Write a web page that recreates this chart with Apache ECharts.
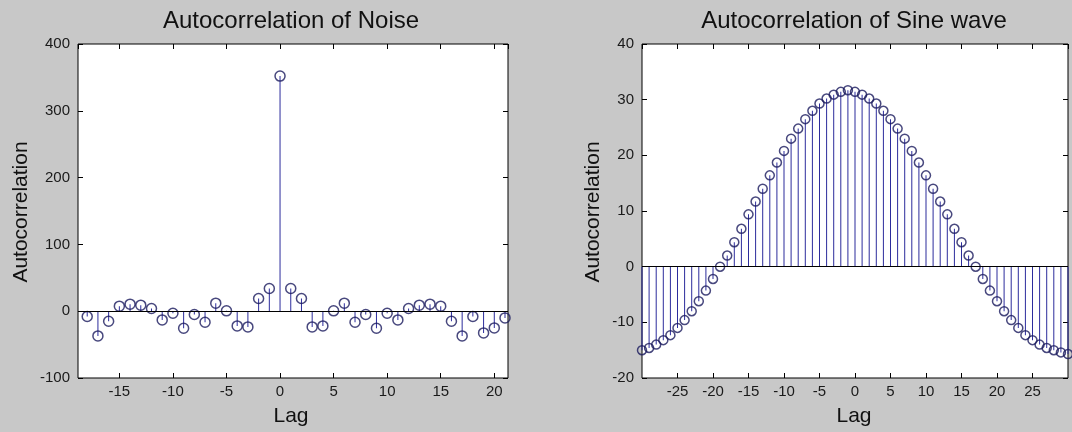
<!DOCTYPE html>
<html>
<head>
<meta charset="utf-8">
<script src="https://cdn.jsdelivr.net/npm/echarts@6/dist/echarts.min.js"></script>
<style>
  html, body { margin: 0; padding: 0; background: #c8c8c8; }
  #main { width: 1072px; height: 432px; }
</style>
</head>
<body>
<div id="main"></div>
<script>
// left panel: noise
var noiseLags = [-18, -17, -16, -15, -14, -13, -12, -11, -10, -9, -8, -7, -6, -5, -4, -3, -2, -1, 0,
  1, 2, 3, 4, 5, 6, 7, 8, 9, 10, 11, 12, 13, 14, 15, 16, 17, 18, 19, 20, 21];
var noiseAcf = [-8, -37, -15, 7.5, 10.5, 9, 4, -13, -3, -25.5, -5, -16.5, 12, 0.5, -22, -23.5, 19, 34, 352,
  34, 19, -23.5, -22, 0.5, 12, -16.5, -5, -25.5, -3, -13, 4, 9, 10.5, 7.5, -15, -37, -8, -32.5, -25, -10];
var noiseXRange = [-18.86, 21.28];
var noiseYTicks = [-100, 400, 100];

// right panel: sine wave
var sineLags = [-30, -29, -28, -27, -26, -25, -24, -23, -22, -21, -20, -19, -18, -17, -16, -15, -14, -13, -12, -11,
  -10, -9, -8, -7, -6, -5, -4, -3, -2, -1, 0, 1, 2, 3, 4, 5, 6, 7, 8, 9, 10, 11, 12, 13, 14, 15, 16, 17, 18, 19,
  20, 21, 22, 23, 24, 25, 26, 27, 28, 29, 30];
var sineAcf = [-15.0, -14.6, -14.0, -13.2, -12.3, -11.0, -9.6, -8.0, -6.2, -4.3, -2.2, 0.0, 2.0, 4.4, 6.8, 9.4,
  11.7, 14.0, 16.4, 18.7, 20.8, 23.0, 24.8, 26.5, 28.0, 29.3, 30.2, 30.9, 31.4, 31.7, 31.4, 30.9, 30.2, 29.3,
  28.0, 26.5, 24.8, 23.0, 20.8, 18.7, 16.4, 14.0, 11.7, 9.4, 6.8, 4.4, 2.0, 0.0, -2.2, -4.3, -6.2, -8.0, -9.6,
  -11.0, -12.3, -13.2, -14.0, -14.6, -15.0, -15.4, -15.7];
var sineXTicks = [-30, 30, 5];
var sineYTicks = [-20, 40, 10];

var FONT = 'Liberation Sans, Arial, sans-serif';
var stemColor = '#2c2c9c';
var ringColor = '#1a1a5e';

function pairs(xs, ys) {
  var out = [];
  for (var i = 0; i < xs.length; i++) out.push([xs[i], ys[i]]);
  return out;
}

function every5(v) {
  return Math.abs(v % 5) < 1e-9 ? String(v) : '';
}

// x axis, bottom one has labels, top one only inner ticks
function xAx(grid, top, extra) {
  var ax = {
    type: 'value', gridIndex: grid, position: top ? 'top' : 'bottom',
    axisLine: { show: false, onZero: false },
    axisTick: { show: true, inside: true, length: 5, lineStyle: { color: '#000' } },
    splitLine: { show: false },
    axisLabel: {
      show: !top, margin: 6, color: '#1a1a1a', fontSize: 15, fontFamily: FONT,
      showMinLabel: false, showMaxLabel: false, formatter: every5
    }
  };
  for (var k in extra) ax[k] = extra[k];
  return ax;
}

function yAx(grid, right, ticks) {
  return {
    type: 'value', gridIndex: grid, position: right ? 'right' : 'left',
    min: ticks[0], max: ticks[1], interval: ticks[2],
    axisLine: { show: false, onZero: false },
    axisTick: { show: true, inside: true, length: 5, lineStyle: { color: '#000' } },
    splitLine: { show: false },
    axisLabel: { show: !right, margin: 8, color: '#1a1a1a', fontSize: 15, fontFamily: FONT }
  };
}

function stems(xi, yi, data) {
  return {
    type: 'bar', xAxisIndex: xi, yAxisIndex: yi, data: data, barWidth: 1,
    itemStyle: { color: stemColor }, silent: true, animation: false, z: 2,
    markLine: {
      silent: true, symbol: ['none', 'none'], label: { show: false },
      lineStyle: { color: '#000', type: 'solid', width: 1 },
      data: [{ yAxis: 0 }]
    }
  };
}

function rings(xi, yi, data, size) {
  return {
    type: 'scatter', xAxisIndex: xi, yAxisIndex: yi, data: data, symbol: 'circle', symbolSize: size,
    itemStyle: { color: 'rgba(0,0,0,0)', borderColor: ringColor, borderWidth: 1.5 },
    silent: true, animation: false, z: 3
  };
}

function label(text, x, y, size, rot) {
  return {
    type: 'text', x: x, y: y, rotation: rot || 0, silent: true,
    style: { text: text, fill: '#111', font: size + 'px ' + FONT, textAlign: 'center', textVerticalAlign: 'middle' }
  };
}

var chart = echarts.init(document.getElementById('main'), null, { renderer: 'canvas' });

var noiseX = { min: noiseXRange[0], max: noiseXRange[1], splitNumber: 8 };
var sineX = { min: sineXTicks[0], max: sineXTicks[1], interval: sineXTicks[2] };

var option = {
  backgroundColor: '#c8c8c8',
  animation: false,
  grid: [
    { left: 78, top: 44, width: 430, height: 334, show: true, backgroundColor: '#fff', borderColor: '#000', borderWidth: 1 },
    { left: 642, top: 44, width: 426, height: 334, show: true, backgroundColor: '#fff', borderColor: '#000', borderWidth: 1 }
  ],
  xAxis: [xAx(0, false, noiseX), xAx(0, true, noiseX), xAx(1, false, sineX), xAx(1, true, sineX)],
  yAxis: [yAx(0, false, noiseYTicks), yAx(0, true, noiseYTicks), yAx(1, false, sineYTicks), yAx(1, true, sineYTicks)],
  series: [
    stems(0, 0, pairs(noiseLags, noiseAcf)),
    rings(0, 0, pairs(noiseLags, noiseAcf), 10),
    stems(2, 2, pairs(sineLags, sineAcf)),
    rings(2, 2, pairs(sineLags, sineAcf), 9)
  ],
  graphic: [
    label('Autocorrelation of Noise', 291, 21, 24),
    label('Lag', 291, 416, 21),
    label('Autocorrelation', 21, 212, 21, Math.PI / 2),
    label('Autocorrelation of Sine wave', 854, 21, 24),
    label('Lag', 854, 416, 21),
    label('Autocorrelation', 593, 212, 21, Math.PI / 2)
  ]
};
chart.setOption(option);
</script>
</body>
</html>
